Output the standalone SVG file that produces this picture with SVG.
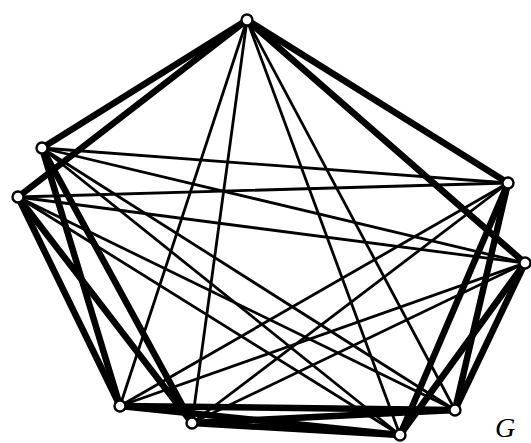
<svg xmlns="http://www.w3.org/2000/svg" width="531" height="443" viewBox="0 0 531 443">
<style>
.thick{stroke:#000;stroke-width:6.5;stroke-linecap:round;fill:none}
.thin{stroke:#000;stroke-width:2.8;stroke-linecap:round;fill:none}
.v{fill:#fff;stroke:#000;stroke-width:2.4}
.lbl{font-family:"Liberation Serif",serif;font-style:italic;font-size:28px;fill:#000}
</style>
<rect width="531" height="443" fill="#fff"/>
<g id="connectors">
<g class="thin">
<line x1="247" y1="20" x2="120" y2="406"/>
<line x1="247" y1="20" x2="192" y2="423"/>
<line x1="247" y1="20" x2="455" y2="410"/>
<line x1="247" y1="20" x2="400" y2="435"/>
<line x1="42" y1="148" x2="508" y2="183"/>
<line x1="42" y1="148" x2="525" y2="263"/>
<line x1="42" y1="148" x2="455" y2="410"/>
<line x1="42" y1="148" x2="400" y2="435"/>
<line x1="18" y1="197" x2="508" y2="183"/>
<line x1="18" y1="197" x2="525" y2="263"/>
<line x1="18" y1="197" x2="455" y2="410"/>
<line x1="18" y1="197" x2="400" y2="435"/>
<line x1="120" y1="406" x2="508" y2="183"/>
<line x1="120" y1="406" x2="525" y2="263"/>
<line x1="192" y1="423" x2="508" y2="183"/>
<line x1="192" y1="423" x2="525" y2="263"/>
</g>
<g class="thick">
<line x1="247" y1="20" x2="42" y2="148"/>
<line x1="247" y1="20" x2="18" y2="197"/>
<line x1="247" y1="20" x2="508" y2="183"/>
<line x1="247" y1="20" x2="525" y2="263"/>
<line x1="42" y1="148" x2="120" y2="406"/>
<line x1="42" y1="148" x2="192" y2="423"/>
<line x1="18" y1="197" x2="120" y2="406"/>
<line x1="18" y1="197" x2="192" y2="423"/>
<line x1="120" y1="406" x2="455" y2="410"/>
<line x1="120" y1="406" x2="400" y2="435"/>
<line x1="192" y1="423" x2="455" y2="410"/>
<line x1="192" y1="423" x2="400" y2="435"/>
<line x1="508" y1="183" x2="455" y2="410"/>
<line x1="508" y1="183" x2="400" y2="435"/>
<line x1="525" y1="263" x2="455" y2="410"/>
<line x1="525" y1="263" x2="400" y2="435"/>
</g>
</g>
<g id="A"><circle class="v" cx="247" cy="20" r="5.5"/></g>
<g id="B"><circle class="v" cx="42" cy="148" r="5.5"/></g>
<g id="C"><circle class="v" cx="18" cy="197" r="5.5"/></g>
<g id="D"><circle class="v" cx="508" cy="183" r="5.5"/></g>
<g id="E"><circle class="v" cx="525" cy="263" r="5.5"/></g>
<g id="F"><circle class="v" cx="455" cy="410" r="5.5"/></g>
<g id="G"><circle class="v" cx="400" cy="435" r="5.5"/></g>
<g id="H"><circle class="v" cx="192" cy="423" r="5.5"/></g>
<g id="I"><circle class="v" cx="120" cy="406" r="5.5"/></g>
<g id="label"><text class="lbl" x="495" y="437">G</text></g>
</svg>
